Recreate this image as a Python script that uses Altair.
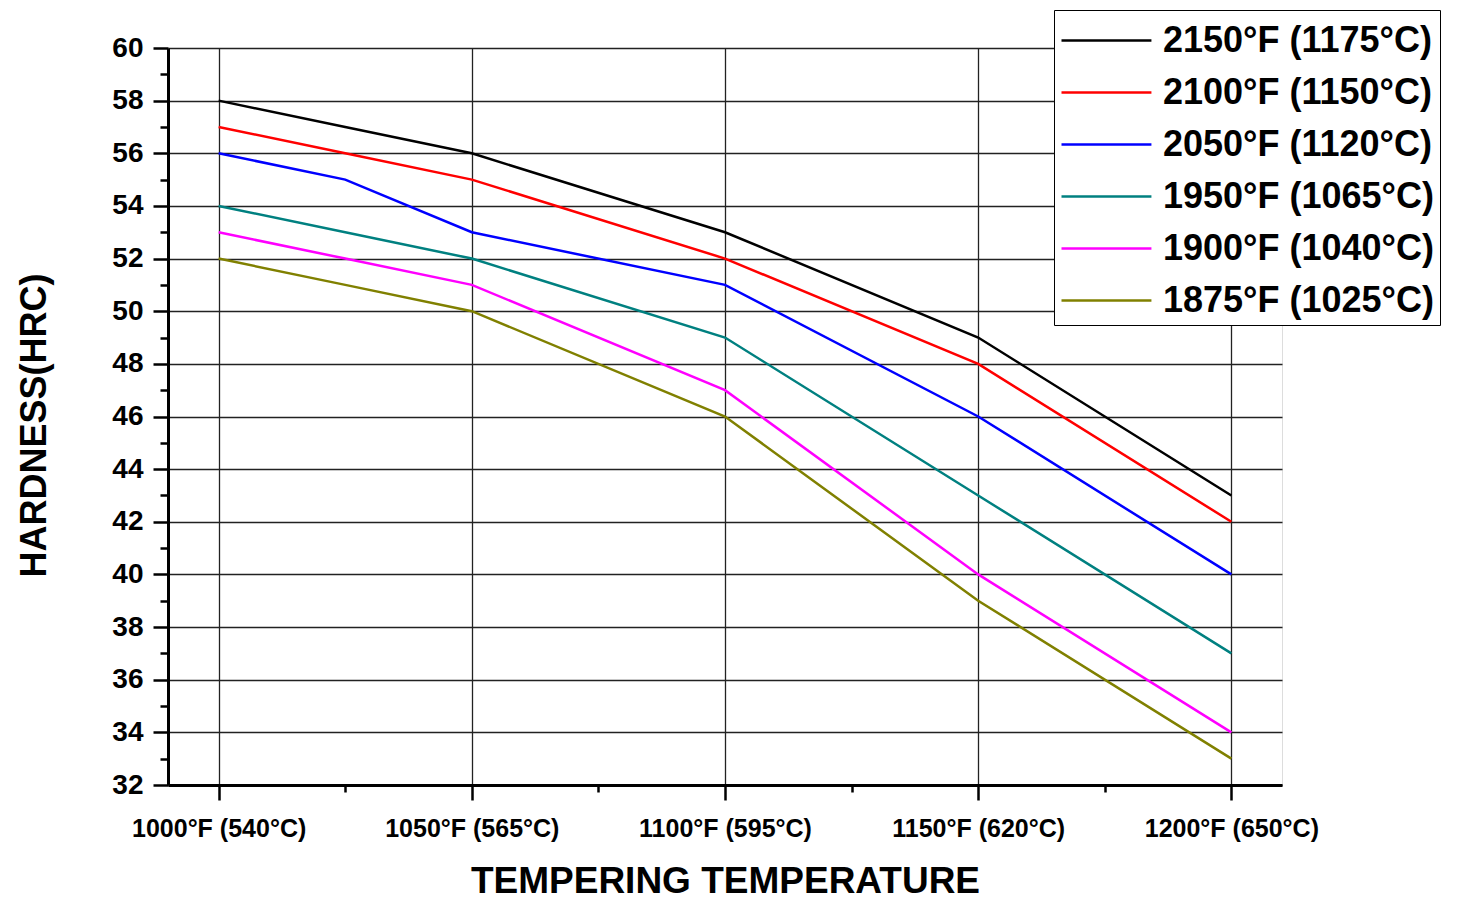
import altair as alt
import pandas as pd

temps = [1000, 1025, 1050, 1100, 1150, 1200]
series_names = ["2150°F (1175°C)", "2100°F (1150°C)", "2050°F (1120°C)",
                "1950°F (1065°C)", "1900°F (1040°C)", "1875°F (1025°C)"]
h2150 = [58, 57, 56, 53, 49, 43]
h2100 = [57, 56, 55, 52, 48, 42]
h2050 = [56, 55, 53, 51, 46, 40]
h1950 = [54, 53, 52, 49, 43, 37]
h1900 = [53, 52, 51, 47, 40, 34]
h1875 = [52, 51, 50, 46, 39, 33]
colors = ["#000000", "#FF0000", "#0000FF", "#008080", "#FF00FF", "#808000"]

x_ticks = [1000, 1050, 1100, 1150, 1200]
x_labels = ["1000°F (540°C)", "1050°F (565°C)", "1100°F (595°C)",
            "1150°F (620°C)", "1200°F (650°C)"]
x_minor = [1025, 1075, 1125, 1175]
y_ticks = list(range(32, 61, 2))
y_minor = list(range(33, 60, 2))

rows = []
for name, vals in zip(series_names, [h2150, h2100, h2050, h1950, h1900, h1875]):
    for t, v in zip(temps, vals):
        rows.append({"temp": t, "hrc": v, "series": name})
df = pd.DataFrame(rows)

label_expr = " : ".join(
    [f"datum.value == {v} ? '{l}'" for v, l in zip(x_ticks, x_labels)]) + " : ''"

FONT = "Liberation Sans"
xscale = alt.Scale(domain=[990, 1210], nice=False, zero=False)
yscale = alt.Scale(domain=[32, 60], nice=False, zero=False)

lines = alt.Chart(df).mark_line(strokeWidth=2.5, clip=True).encode(
    x=alt.X("temp:Q", scale=xscale,
            axis=alt.Axis(values=x_ticks, labelExpr=label_expr, orient="bottom",
                          title="TEMPERING TEMPERATURE", grid=True,
                          gridColor="#222222", gridWidth=1.3,
                          domainColor="black", domainWidth=3,
                          tickColor="black", tickWidth=2.5, tickSize=15,
                          labelFont=FONT, labelFontSize=25, labelFontWeight="bold",
                          labelColor="black", labelPadding=16,
                          titleFont=FONT, titleFontSize=37, titleFontWeight="bold",
                          titleColor="black", titleY=107, titleBaseline="alphabetic")),
    y=alt.Y("hrc:Q", scale=yscale,
            axis=alt.Axis(values=y_ticks, orient="left", title="HARDNESS(HRC)",
                          grid=True, gridColor="#222222", gridWidth=1.3,
                          domainColor="black", domainWidth=3,
                          tickColor="black", tickWidth=2.5, tickSize=15,
                          labelFont=FONT, labelFontSize=28, labelFontWeight="bold",
                          labelColor="black", labelPadding=10,
                          titleFont=FONT, titleFontSize=36, titleFontWeight="bold",
                          titleColor="black", titleX=-134, titleY=377,
                          titleAngle=-90, titleBaseline="middle", titleAlign="center")),
    color=alt.Color("series:N",
                    scale=alt.Scale(domain=series_names, range=colors),
                    legend=alt.Legend(title=None, orient="none", legendX=886, legendY=-38,
                                      symbolType="M-1,0H2.91", symbolSize=2116,
                                      symbolStrokeWidth=2.5, labelFont=FONT,
                                      labelFontSize=36, labelFontWeight="bold",
                                      labelColor="black", labelOffset=54, labelLimit=600,
                                      rowPadding=9, padding=6,
                                      fillColor="white", strokeColor="black")),
)

minor = alt.Chart(df).mark_point(opacity=0).encode(
    x=alt.X("temp:Q", scale=xscale,
            axis=alt.Axis(values=x_minor, orient="bottom", labels=False, grid=False,
                          domain=False, tickColor="black", tickWidth=2.5, tickSize=7,
                          title=None)),
    y=alt.Y("hrc:Q", scale=yscale,
            axis=alt.Axis(values=y_minor, orient="left", labels=False, grid=False,
                          domain=False, tickColor="black", tickWidth=2.5, tickSize=8,
                          title=None)),
)

chart = alt.layer(lines, minor).resolve_axis(x="independent", y="independent").properties(
    width=1114, height=737,
    autosize=alt.AutoSizeParams(type="none"),
    padding={"left": 160, "top": 40, "right": 170, "bottom": 116},
).configure_view(stroke="black", strokeWidth=3).configure(background="white")

chart.save("out.html", embed_options={"renderer": "svg", "actions": False})
